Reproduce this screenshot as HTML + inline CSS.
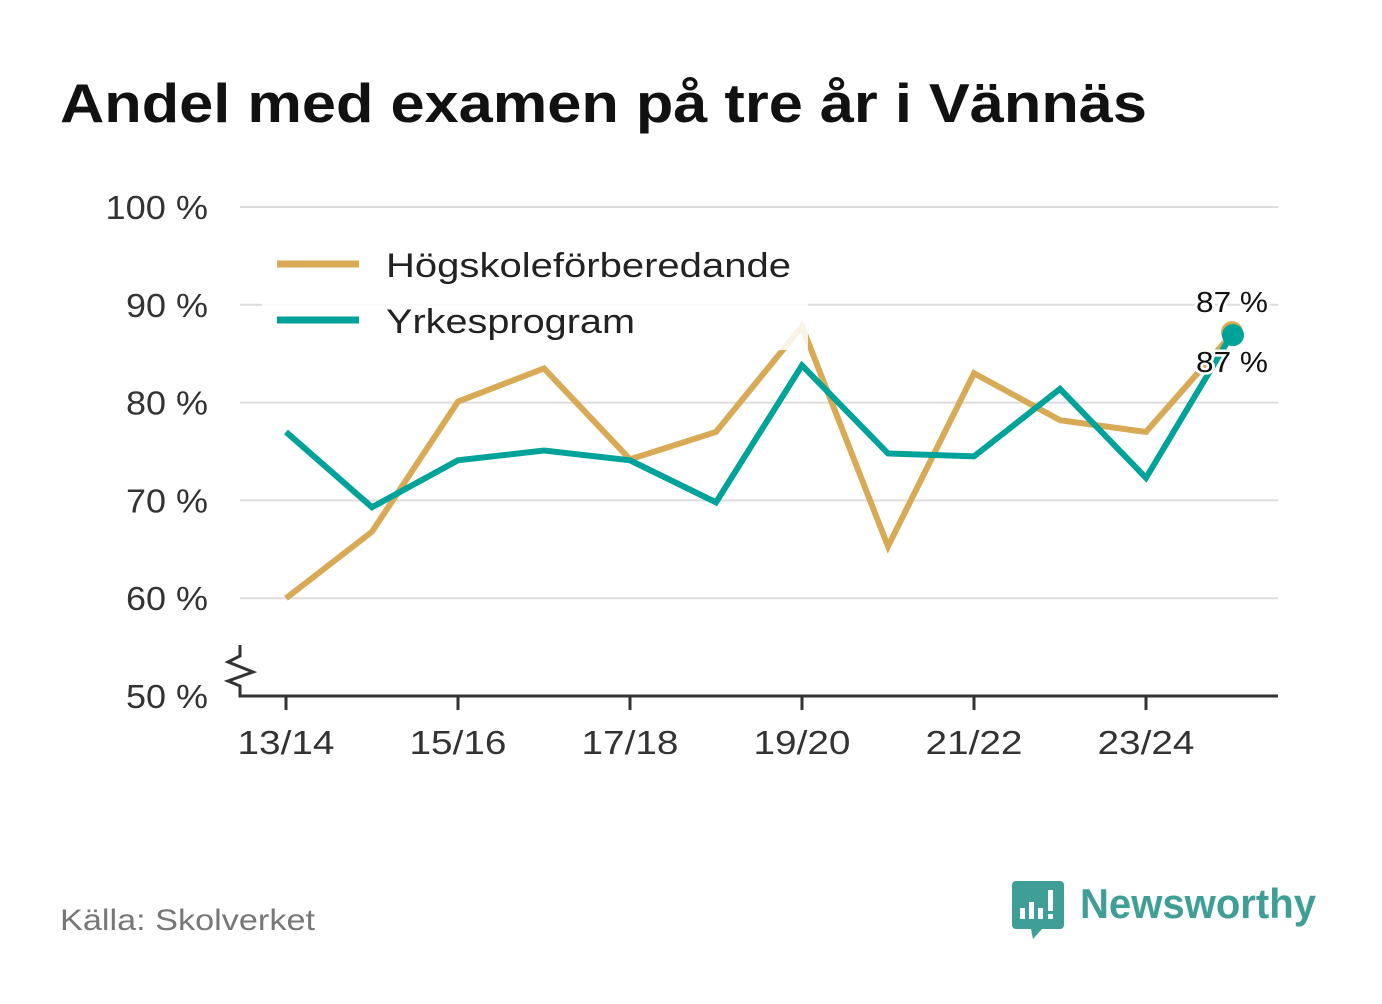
<!DOCTYPE html>
<html><head><meta charset="utf-8"><style>
body{margin:0;width:1382px;height:999px;background:#fff;overflow:hidden;font-family:"Liberation Sans","DejaVu Sans",sans-serif}
</style></head><body>
<svg width="1382" height="999" xmlns="http://www.w3.org/2000/svg">
<text x="60" y="122" font-size="55" font-weight="bold" fill="#111" textLength="1087" lengthAdjust="spacingAndGlyphs">Andel med examen på tre år i Vännäs</text>
<g id="grid"></g>
<g id="yt" font-size="33" fill="#333" text-anchor="end"></g>
<g id="xt" font-size="33" fill="#333" text-anchor="middle"></g>
<path d="M240 645 L240 656 L228 662 L253 672 L228 681 L240 686 L240 696 L1278 696" fill="none" stroke="#333" stroke-width="3"/>
<g id="lines"></g>
<rect x="262" y="236" width="546" height="114" fill="#fff" opacity="0.85"/>
<g>
<line x1="277" y1="264" x2="359" y2="264" stroke="#d9aa55" stroke-width="7"/>
<text x="386" y="277" font-size="34" fill="#222" textLength="405" lengthAdjust="spacingAndGlyphs">Högskoleförberedande</text>
<line x1="277" y1="320" x2="359" y2="320" stroke="#00a399" stroke-width="7"/>
<text x="386" y="333" font-size="34" fill="#222" textLength="249" lengthAdjust="spacingAndGlyphs">Yrkesprogram</text>
</g>
<g id="endpts"></g>
<text x="60" y="930" font-size="30" fill="#777" textLength="255" lengthAdjust="spacingAndGlyphs">Källa: Skolverket</text>
<g>
<path d="M1016 881 h44 a4 4 0 0 1 4 4 v40 a4 4 0 0 1 -4 4 h-18 l-9 10 l-2 -10 h-15 a4 4 0 0 1 -4 -4 v-40 a4 4 0 0 1 4 -4z" fill="#3f9e96"/>
<rect x="1020" y="908" width="5" height="11" fill="#fff"/><rect x="1029" y="902" width="5" height="17" fill="#fff"/><rect x="1038" y="908" width="5" height="11" fill="#fff"/><rect x="1048" y="890" width="5" height="21" fill="#fff"/><rect x="1048" y="914" width="5" height="5" fill="#fff"/>
<text x="1080" y="918" font-size="42" font-weight="bold" fill="#3f9e96" textLength="236" lengthAdjust="spacingAndGlyphs">Newsworthy</text>
</g>
</svg>
<script>
const categories=["13/14","14/15","15/16","16/17","17/18","18/19","19/20","20/21","21/22","22/23","23/24","24/25"];
const hogskole=[60,66.8,80.1,83.5,74.2,77,87.8,65.3,83,78.2,77,87];
const yrkes=[77,69.3,74.1,75.1,74.1,69.8,83.8,74.8,74.5,81.4,72.3,87];
const yTicks=[50,60,70,80,90,100];
const xTickLabels=["13/14","15/16","17/18","19/20","21/22","23/24"];
const NS="http://www.w3.org/2000/svg";
const x=i=>286+i*86;
const y=v=>696-(v-50)*9.78;
function mk(t,a,p){const e=document.createElementNS(NS,t);for(const k in a)e.setAttribute(k,a[k]);document.getElementById(p).appendChild(e);return e;}
yTicks.forEach(v=>{
 if(v>50){const g=mk('line',{x1:240,x2:1278,y1:y(v),y2:y(v),stroke:'#ddd','stroke-width':2},'grid');
 
 }
 const t=mk('text',{x:208,y:y(v)+12,textLength:(String(v).length+2)*20.5,lengthAdjust:'spacingAndGlyphs'},'yt');t.textContent=v+' %';
 
 
});
xTickLabels.forEach(l=>{const i=categories.indexOf(l);
 const tk=mk('line',{x1:x(i),x2:x(i),y1:696,y2:710,stroke:'#333','stroke-width':3},'xt');
 
 
 const t=mk('text',{x:x(i),y:754,textLength:97,lengthAdjust:'spacingAndGlyphs'},'xt');t.textContent=l;
 
 
});
[[hogskole,'#d9aa55','line-hogskole'],[yrkes,'#00a399','line-yrkes']].forEach(([d,c,n])=>{
 const p=mk('polyline',{points:d.map((v,i)=>x(i)+','+y(v)).join(' '),fill:'none',stroke:c,'stroke-width':6,'stroke-linejoin':'miter'},'lines');
 
 
});
const L=categories.length-1;
const c1=mk('circle',{cx:x(L),cy:y(hogskole[L])-2,r:11,fill:'#d9aa55'},'endpts');


const c2=mk('circle',{cx:x(L)+1,cy:y(yrkes[L])+1,r:11,fill:'#00a399'},'endpts');


const t1=mk('text',{x:x(L),y:y(hogskole[L])-22,'font-size':29,fill:'#111','text-anchor':'middle',stroke:'#fff','stroke-width':5,'paint-order':'stroke',textLength:72,lengthAdjust:'spacingAndGlyphs'},'endpts');
t1.textContent=hogskole[L]+' %';


const t2=mk('text',{x:x(L),y:y(yrkes[L])+38,'font-size':29,fill:'#111','text-anchor':'middle',stroke:'#fff','stroke-width':5,'paint-order':'stroke',textLength:72,lengthAdjust:'spacingAndGlyphs'},'endpts');
t2.textContent=yrkes[L]+' %';


</script>
</body></html>
